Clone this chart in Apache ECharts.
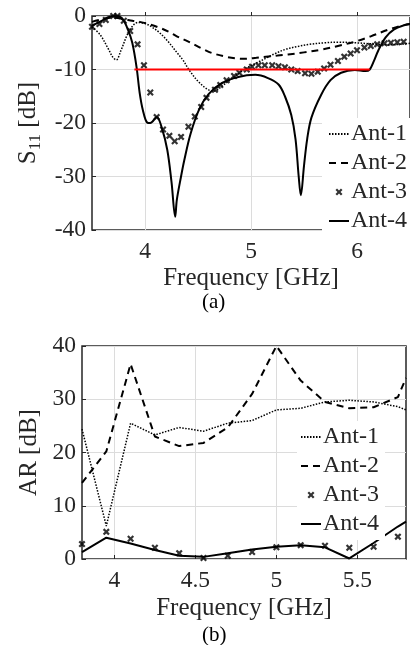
<!DOCTYPE html>
<html>
<head>
<meta charset="utf-8">
<script src="https://cdn.jsdelivr.net/npm/echarts@6/dist/echarts.min.js"></script>
<style>
  html, body { margin: 0; padding: 0; background: #fff; }
  #chart { width: 410px; height: 645px; }
</style>
</head>
<body>
<div id="chart"></div>
<script>
// (a) S11 vs frequency  [GHz, dB]
var s11Ant1 = [[3.5,-2],[3.58,-3.6],[3.65,-6],[3.7,-7.8],[3.73,-8.2],[3.77,-6.6],[3.84,-3.2],[3.9,-1.5],[3.94,-1.2],[4.0,-1.4],[4.06,-2],[4.13,-3],[4.21,-4.6],[4.3,-6.8],[4.36,-8.3],[4.42,-10.2],[4.51,-12.4],[4.6,-13.8],[4.66,-14],[4.72,-13.2],[4.8,-12],[4.88,-10.8],[4.96,-9.7],[5.07,-8.6],[5.15,-7.8],[5.23,-7],[5.33,-6.2],[5.44,-5.7],[5.55,-5.3],[5.7,-5.0],[5.82,-4.9],[5.98,-5.0],[6.13,-5.2],[6.29,-5.4],[6.4,-5.3],[6.5,-5.1]];
var s11Ant2 = [[3.5,-1.1],[3.6,-0.6],[3.7,-0.3],[3.8,-0.6],[3.88,-0.9],[3.95,-1.1],[4.05,-1.6],[4.15,-2.3],[4.23,-3],[4.3,-3.8],[4.38,-4.5],[4.46,-5.3],[4.55,-6.2],[4.63,-6.9],[4.76,-7.6],[4.85,-7.9],[4.95,-8.0],[5.05,-7.8],[5.14,-7.6],[5.25,-7.4],[5.35,-7.2],[5.5,-6.8],[5.66,-6.3],[5.82,-5.6],[5.98,-4.8],[6.13,-3.8],[6.29,-2.6],[6.4,-1.9],[6.5,-1.5]];
var s11Ant3 = [[3.5,-2.0],[3.57,-1.5],[3.63,-0.75],[3.7,0],[3.74,0],[3.8,-0.9],[3.86,-2.8],[3.93,-5.3],[3.99,-9.2],[4.05,-14.3],[4.11,-18.9],[4.17,-21.2],[4.23,-22.4],[4.28,-23.4],[4.34,-22.6],[4.41,-20.7],[4.47,-18.8],[4.53,-17],[4.58,-15.3],[4.66,-13.8],[4.71,-12.9],[4.77,-12],[4.84,-11.2],[4.89,-10.6],[4.96,-10],[5.01,-9.5],[5.07,-9.2],[5.13,-9.2],[5.2,-9.2],[5.26,-9.4],[5.32,-9.6],[5.38,-10],[5.44,-10.3],[5.51,-10.7],[5.57,-10.8],[5.63,-10.4],[5.69,-9.8],[5.75,-9.1],[5.82,-8.4],[5.88,-7.6],[5.94,-7],[6.0,-6.4],[6.07,-5.9],[6.13,-5.6],[6.19,-5.3],[6.26,-5.1],[6.32,-5],[6.38,-4.9],[6.44,-4.8]];
var s11Ant4 = [[3.5,-1.8],[3.58,-1],[3.66,-0.2],[3.74,0],[3.79,-0.6],[3.84,-2.6],[3.88,-5],[3.92,-9.5],[3.95,-14.4],[3.98,-17.6],[4.02,-19.9],[4.05,-20],[4.11,-18.9],[4.16,-21],[4.21,-25],[4.25,-31],[4.285,-37.5],[4.3,-34.4],[4.34,-30],[4.37,-27],[4.43,-22],[4.51,-17.5],[4.6,-14.6],[4.72,-12.6],[4.88,-11.4],[5.04,-11.0],[5.16,-11.6],[5.26,-12.8],[5.32,-15],[5.38,-18.5],[5.42,-23],[5.45,-30],[5.47,-33.5],[5.5,-28],[5.53,-23],[5.57,-19],[5.66,-14.8],[5.75,-12],[5.85,-10.6],[5.98,-10.1],[6.08,-10.3],[6.12,-10.0],[6.16,-8.4],[6.2,-6.5],[6.27,-4],[6.35,-2.5],[6.45,-1.7],[6.5,-1.5]];
var s11Limit = [[3.9,-10],[6.12,-10]];

// (b) AR vs frequency  [GHz, dB]
var arFreq = [3.8,3.95,4.1,4.25,4.4,4.55,4.7,4.85,5.0,5.15,5.3,5.45,5.6,5.75,5.8];
var arAnt1 = [24.4,6.2,25.5,23.3,24.7,24.0,25.5,26.0,28.0,28.3,29.5,29.8,29.5,28.6,28.0];
var arAnt2 = [14.3,20.2,36.6,23.0,21.2,21.8,24.7,31.0,40.0,33.5,29.5,28.3,28.5,30.4,34.0];
var arAnt3 = [2.8,5.1,3.8,2.1,1.1,0.2,0.6,1.3,2.2,2.6,2.5,2.1,2.3,4.2];
var arAnt4 = [1.3,4.0,2.9,1.7,0.6,0.4,1.1,1.8,2.3,2.6,2.2,0.1,3.0,6.1,7.0];

var topXTicks = [4, 5, 6];
var botXTicks = [4, 4.5, 5, 5.5];

function pairs(xs, ys) {
    return ys.map(function (y, i) { return [xs[i], y]; });
}

var FONT = 'Liberation Serif';
var TXT = '#262626';
var GRIDC = '#dcdcdc';
var xMark = 'path://M0,2.2L2.2,0L5,2.8L7.8,0L10,2.2L7.2,5L10,7.8L7.8,10L5,7.2L2.2,10L0,7.8L2.8,5Z';
var hidden = { color: 'rgba(0,0,0,0)', borderColor: 'rgba(0,0,0,0)', borderWidth: 0 };

function xAxisOf(idx, min, max, ticks, nameGap) {
    return {
        gridIndex: idx, type: 'value', min: min, max: max,
        name: 'Frequency [GHz]', nameLocation: 'middle', nameGap: nameGap,
        nameTextStyle: { fontFamily: FONT, fontSize: 25, color: TXT },
        axisLine: { show: false },
        axisTick: { show: true, inside: true, length: 4, customValues: ticks, lineStyle: { color: TXT } },
        axisLabel: { customValues: ticks, fontFamily: FONT, fontSize: 23.5, color: TXT, margin: 10 },
        splitLine: { show: true, customValues: ticks, lineStyle: { color: GRIDC, width: 1 } }
    };
}

function yAxisOf(idx, min, max, name, nameGap) {
    return {
        gridIndex: idx, type: 'value', min: min, max: max, interval: 10,
        name: name, nameLocation: 'middle', nameGap: nameGap, nameRotate: 90,
        nameTextStyle: {
            fontFamily: FONT, fontSize: 25, color: TXT,
            rich: {
                n: { fontFamily: FONT, fontSize: 25, color: TXT },
                sub: { fontFamily: FONT, fontSize: 17, color: TXT, padding: [13, 0, 0, 0] }
            }
        },
        axisLine: { show: false, onZero: false },
        axisTick: { show: true, inside: true, length: 4, lineStyle: { color: TXT } },
        axisLabel: { fontFamily: FONT, fontSize: 23.5, color: TXT, margin: 6 },
        splitLine: { show: true, lineStyle: { color: GRIDC, width: 1 } }
    };
}

function legendOf(left, top, padLeft) {
    return {
        orient: 'vertical', left: left, top: top,
        backgroundColor: '#ffffff',
        padding: [4, 6, 4, padLeft],
        itemWidth: 20, itemHeight: 7, itemGap: 5,
        textStyle: { fontFamily: FONT, fontSize: 24, lineHeight: 22, color: TXT, padding: [0, 0, 0, -3] },
        data: [
            { name: 'Ant-1', itemStyle: hidden },
            { name: 'Ant-2', itemStyle: hidden },
            { name: 'Ant-3' },
            { name: 'Ant-4', itemStyle: hidden }
        ],
        selectedMode: false
    };
}

var myChart = echarts.init(document.getElementById('chart'));

var option = {
    animation: false,
    backgroundColor: '#ffffff',
    grid: [
        { left: 92, right: -5, top: 16, bottom: 415, show: true, borderColor: TXT, borderWidth: 1.5, backgroundColor: 'transparent' },
        { left: 82, right: 4, top: 346, bottom: 86, show: true, borderColor: TXT, borderWidth: 1.5, backgroundColor: 'transparent' }
    ],
    xAxis: [
        xAxisOf(0, 3.5, 6.5, topXTicks, 36),
        xAxisOf(1, 3.8, 5.8, botXTicks, 37)
    ],
    yAxis: [
        yAxisOf(0, -40, 0, '{n|S}{sub|11}{n| [dB]}', 41),
        yAxisOf(1, 0, 40, 'AR [dB]', 26)
    ],
    legend: [
        legendOf(322, 118, 6),
        legendOf(297, 421, 3)
    ],
    graphic: [
        { type: 'text', left: 202, top: 292, style: { text: '(a)', font: '21px "Liberation Serif"', fill: '#000' } },
        { type: 'text', left: 202, top: 625, style: { text: '(b)', font: '21px "Liberation Serif"', fill: '#000' } }
    ],
    series: [
        { name: 'Ant-1', type: 'line', xAxisIndex: 0, yAxisIndex: 0, data: s11Ant1, smooth: 0.35, symbol: 'none',
          lineStyle: { color: '#000', width: 1.5, type: [1.5, 1.5] }, itemStyle: { color: '#000' } },
        { name: 'Ant-2', type: 'line', xAxisIndex: 0, yAxisIndex: 0, data: s11Ant2, smooth: 0.35, symbol: 'none',
          lineStyle: { color: '#000', width: 2, type: [7, 5] }, itemStyle: { color: '#000' } },
        { name: 'Ant-3', type: 'scatter', xAxisIndex: 0, yAxisIndex: 0, data: s11Ant3, symbol: xMark, symbolSize: 7,
          itemStyle: { color: '#000' } },
        { name: 'Ant-4', type: 'line', xAxisIndex: 0, yAxisIndex: 0, data: s11Ant4, smooth: 0.35, symbol: 'none',
          lineStyle: { color: '#000', width: 2 }, itemStyle: { color: '#000' } },
        { type: 'line', xAxisIndex: 0, yAxisIndex: 0, data: s11Limit, symbol: 'none', z: 5,
          lineStyle: { color: '#ff0000', width: 2 } },

        { name: 'Ant-1', type: 'line', xAxisIndex: 1, yAxisIndex: 1, data: pairs(arFreq, arAnt1), symbol: 'none',
          lineStyle: { color: '#000', width: 1.5, type: [1.5, 1.5] }, itemStyle: { color: '#000' } },
        { name: 'Ant-2', type: 'line', xAxisIndex: 1, yAxisIndex: 1, data: pairs(arFreq, arAnt2), symbol: 'none',
          lineStyle: { color: '#000', width: 2, type: [7, 5] }, itemStyle: { color: '#000' } },
        { name: 'Ant-3', type: 'scatter', xAxisIndex: 1, yAxisIndex: 1, data: pairs(arFreq, arAnt3), symbol: xMark, symbolSize: 7,
          itemStyle: { color: '#000' } },
        { name: 'Ant-4', type: 'line', xAxisIndex: 1, yAxisIndex: 1, data: pairs(arFreq, arAnt4), symbol: 'none',
          lineStyle: { color: '#000', width: 2 }, itemStyle: { color: '#000' } }
    ]
};
myChart.setOption(option);
</script>
</body>
</html>
